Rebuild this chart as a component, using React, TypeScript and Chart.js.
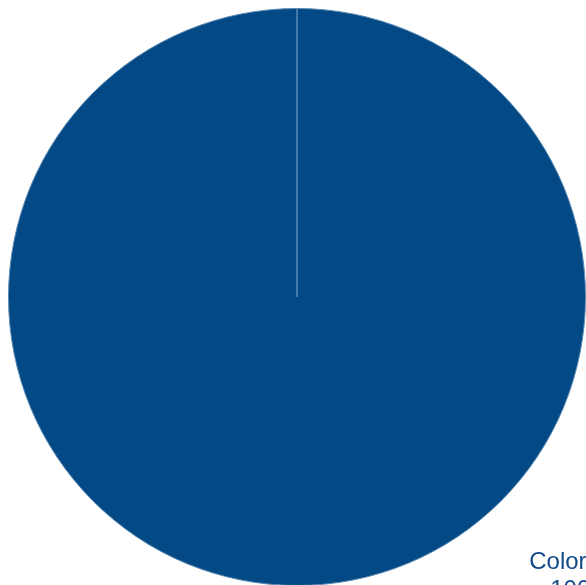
import React, { useEffect, useRef } from "react";
import { Chart, registerables } from "chart.js";

Chart.register(...registerables);

const categories: string[] = ["Color"];
const values: number[] = [100];
const valueLabels: string[] = ["100%"];
const sliceColors: string[] = ["#034985"];

if (typeof document !== "undefined") {
  document.documentElement.style.overflow = "hidden";
  document.body.style.overflow = "hidden";
}

const labelPlugin = {
  id: "outerLabel",
  afterDraw(chart: any) {
    const meta = chart.getDatasetMeta(0);
    const arc = meta.data[0];
    if (!arc) return;
    const { x, y, outerRadius } = arc.getProps(["x", "y", "outerRadius"], true);
    const ctx = chart.ctx;
    ctx.save();
    ctx.fillStyle = "#124a88";
    ctx.font = "24px 'Liberation Sans', Arial, sans-serif";
    ctx.textBaseline = "alphabetic";
    ctx.textAlign = "left";
    const ang = Math.PI / 4;
    const px = x + outerRadius * 1.3 * Math.cos(ang);
    const py = y + outerRadius * 1.3 * Math.sin(ang);
    ctx.fillText(categories[0], px - 33, py + 7);
    ctx.fillText(valueLabels[0], px - 12, py + 35);
    ctx.restore();
  },
};

export default function App() {
  const ref = useRef<HTMLCanvasElement>(null);
  useEffect(() => {
    if (!ref.current) return;
    const chart = new Chart(ref.current, {
      type: "pie",
      data: {
        labels: categories,
        datasets: [
          {
            data: values,
            backgroundColor: sliceColors,
            borderColor: "#5a89b3",
            borderWidth: 1,
          },
        ],
      },
      options: {
        responsive: false,
        animation: false,
        layout: { padding: 0 },
        plugins: {
          legend: { display: false },
          tooltip: { enabled: false },
        },
      },
      plugins: [labelPlugin],
    });
    return () => chart.destroy();
  }, []);
  return (
    <div style={{ position: "fixed", left: 8, top: 8, width: 578, height: 578 }}>
      <canvas ref={ref} width={578} height={578} style={{ width: 578, height: 578, display: "block" }} />
    </div>
  );
}
